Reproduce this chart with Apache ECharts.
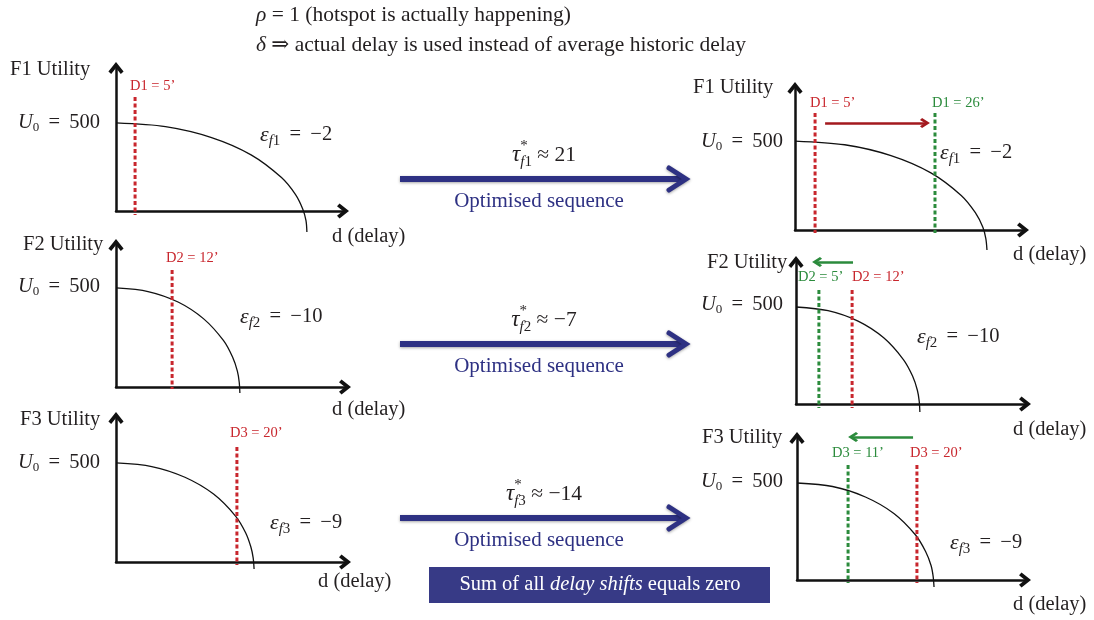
<!DOCTYPE html>
<html>
<head>
<meta charset="utf-8">
<script src="https://cdn.jsdelivr.net/npm/echarts@6/dist/echarts.min.js"></script>
<style>html,body{margin:0;background:#fff}#chart{width:1094px;height:620px}</style>
</head>
<body>
<div id="chart"></div>
<script>
// panels 0-2: historic delay (left), panels 3-5: optimised sequence (right)
const flights = ['F1', 'F2', 'F3'];
const elasticity = ['\u22122', '\u221210', '\u22129'];
const tauStar = ['21', '\u22127', '\u221214'];
const histDelayLabel = ['D1 = 5\u2019', 'D2 = 12\u2019', 'D3 = 20\u2019'];
const newDelayLabel = ['D1 = 26\u2019', 'D2 = 5\u2019', 'D3 = 11\u2019'];
const U0 = 500;

// positions on the delay axis (0..100 = axis length)
const histDelayLeft = [8.4, 24.5, 52.8];
const histDelayRight = [8.8, 24.5, 52.6];
const newDelayRight = [61.4, 10.0, 22.4];
const dashTop = [648, 591, 581, 657, 588, 593];
const dashBottom = [-23, -10, -15, -17, -21, -15];
const shiftFrom = [13.2, 24.9, 50.9];
const shiftTo = [57.0, 9.2, 24.6];
const shiftLevel = [601, 732, 737];

// utility curves [delay, utility]
const curveL1 = [[0,500],[21.8,479],[42.1,417],[59.5,319],[72.9,190],[79.1,93],[82.3,10],[83.7,-55],[84.1,-119]];
const curveL2 = [[0,500],[14.0,482],[27.1,429],[38.3,344],[46.9,235],[50.9,151],[53.0,80],[53.8,25],[54.1,-30]];
const curveL3 = [[0,500],[15.6,482],[30.1,428],[42.6,343],[52.2,232],[56.6,148],[58.9,76],[59.9,21],[60.3,-35]];
const curveR1 = [[0,500],[21.8,479],[42.1,418],[59.6,321],[72.9,194],[79.1,97],[82.4,15],[83.7,-48],[84.2,-112]];
const curveR2 = [[0,500],[14.0,481],[27.1,427],[38.3,341],[46.9,229],[50.9,144],[53.0,71],[53.8,15],[54.1,-41]];
const curveR3 = [[0,500],[15.6,482],[30.0,428],[42.5,343],[52.0,232],[56.4,147],[58.8,75],[59.7,20],[60.1,-36]];
const curves = [curveL1, curveL2, curveL3, curveR1, curveR2, curveR3];

// grid boxes [left, top, width, height] and y-axis max so U0 sits right
const boxes = [
  [116, 68, 227, 143], [116, 245, 229, 142], [116, 418, 229, 144],
  [795, 88, 228, 142], [796, 262, 229, 142], [797, 438, 228, 142]
];
const yMax = [812, 717, 727, 798, 732, 732];

const FONT = '"Liberation Serif", "DejaVu Serif", serif';
const INK = '#231f20';
const RED = '#c8262d';
const GREEN = '#2b8b3c';
const NAVY = '#2e3183';
const chevron = 'path://M6,0L12,7.5L9.8,9.5L6,4.8L2.2,9.5L0,7.5Z';

const ctx = document.createElement('canvas').getContext('2d');
function tw(t, s, it) {
  ctx.font = (it ? 'italic ' : '') + s + 'px ' + FONT;
  return ctx.measureText(t).width;
}
// text built from pieces (sub/superscripts), o = no advance
function mt(x, y, parts, align, color) {
  let total = 0;
  parts.forEach(p => { if (!p.o) total += tw(p.t, p.s, p.i); });
  let cx = align === 'right' ? x - total : align === 'center' ? x - total / 2 : x;
  const out = [];
  parts.forEach(p => {
    out.push({
      type: 'text', x: cx, y: y + (p.dy || 0), silent: true,
      style: {
        text: p.t, fontSize: p.s, fontFamily: FONT, fontStyle: p.i ? 'italic' : 'normal',
        fill: p.c || color || INK, align: 'left', verticalAlign: 'middle'
      }
    });
    if (!p.o) cx += tw(p.t, p.s, p.i);
  });
  return out;
}
function plain(x, y, t, s, color, align) {
  return mt(x, y, [{t: t, s: s}], align || 'left', color);
}
const EQ = ' \u2009=\u2009 ';
function u0(x, y) {
  return mt(x, y, [{t: 'U', s: 20.5, i: 1}, {t: '0', s: 13, dy: 5}, {t: EQ + U0, s: 20.5}], 'right');
}
function eps(x, y, k) {
  return mt(x, y, [{t: '\u03b5', s: 22, i: 1}, {t: 'f', s: 15, i: 1, dy: 6}, {t: String(k + 1), s: 15, dy: 6},
    {t: EQ + elasticity[k], s: 20.5}], 'left');
}

const grid = boxes.map(b => ({left: b[0], top: b[1], width: b[2], height: b[3]}));
const axisLine = {
  show: true, onZero: false, symbol: ['none', chevron], symbolSize: [16, 12],
  lineStyle: {color: '#111', width: 2.5}
};
const xAxis = boxes.map((b, i) => ({
  type: 'value', gridIndex: i, min: 0, max: 100, axisLine: axisLine,
  axisTick: {show: false}, axisLabel: {show: false}, splitLine: {show: false}
}));
const yAxis = boxes.map((b, i) => ({
  type: 'value', gridIndex: i, min: 0, max: yMax[i], axisLine: axisLine,
  axisTick: {show: false}, axisLabel: {show: false}, splitLine: {show: false}
}));

const series = [];
curves.forEach((c, i) => {
  series.push({
    type: 'line', xAxisIndex: i, yAxisIndex: i, data: c, smooth: 0.3, symbol: 'none', clip: false,
    lineStyle: {color: '#111', width: 1.3}, z: 3
  });
});
function dash(i, x, color) {
  series.push({
    type: 'line', xAxisIndex: i, yAxisIndex: i, data: [[x, dashTop[i]], [x, dashBottom[i]]],
    symbol: 'none', clip: false, lineStyle: {color: color, width: 3, type: [4, 2.5]}, z: 4
  });
}
for (let k = 0; k < 3; k++) {
  dash(k, histDelayLeft[k], RED);
  dash(3 + k, histDelayRight[k], RED);
  dash(3 + k, newDelayRight[k], GREEN);
  series.push({
    type: 'lines', coordinateSystem: 'cartesian2d', xAxisIndex: 3 + k, yAxisIndex: 3 + k, clip: false,
    symbol: ['none', chevron], symbolSize: [13, 10],
    lineStyle: {color: k === 0 ? '#a3191e' : GREEN, width: 2.5, opacity: 1, curveness: 0},
    data: [{coords: [[shiftFrom[k], shiftLevel[k]], [shiftTo[k], shiftLevel[k]]]}], z: 5
  });
}

// annotation text positions
const utilPos = [[10, 70], [23, 245], [20, 420], [693, 88], [707, 263], [702, 438]];
const u0Pos = [[100, 123], [100, 287], [100, 463], [783, 142], [783, 305], [783, 482]];
const epsPos = [[260, 135], [240, 317], [270, 523], [940, 153], [917, 337], [950, 543]];
const delayPos = [[332, 237], [332, 410], [318, 582], [1013, 255], [1013, 430], [1013, 605]];
const histLabelPos = [[130, 86], [166, 258], [230, 433], [810, 103], [852, 277], [910, 453]];
const newLabelPos = [[932, 103], [798, 277], [832, 453]];
const arrowY = [179, 344, 518];

let g = [];
g = g.concat(mt(256, 15, [{t: '\u03c1', s: 21.5, i: 1}, {t: ' = 1 (hotspot is actually happening)', s: 21.5}]));
g = g.concat(mt(256, 45, [{t: '\u03b4', s: 21.5, i: 1}, {t: ' \u21d2 actual delay is used instead of average historic delay', s: 21.5}]));
for (let i = 0; i < 6; i++) {
  const k = i % 3;
  g = g.concat(plain(utilPos[i][0], utilPos[i][1], flights[k] + ' Utility', 20.5));
  g = g.concat(u0(u0Pos[i][0], u0Pos[i][1]));
  g = g.concat(eps(epsPos[i][0], epsPos[i][1], k));
  g = g.concat(plain(delayPos[i][0], delayPos[i][1], 'd (delay)', 20.5));
  g = g.concat(plain(histLabelPos[i][0], histLabelPos[i][1], histDelayLabel[k], 14.5, RED));
}
for (let k = 0; k < 3; k++) {
  g = g.concat(plain(newLabelPos[k][0], newLabelPos[k][1], newDelayLabel[k], 14.5, GREEN));
  const y = arrowY[k];
  g.push({type: 'line', silent: true, shape: {x1: 400, y1: y, x2: 684, y2: y},
    style: {stroke: NAVY, lineWidth: 6, shadowBlur: 3, shadowColor: 'rgba(0,0,0,0.35)', shadowOffsetY: 1}});
  g.push({type: 'polyline', silent: true, shape: {points: [[669, y - 11], [686, y], [669, y + 11]]},
    style: {stroke: NAVY, fill: 'none', lineWidth: 5, lineJoin: 'miter', lineCap: 'round',
      shadowBlur: 3, shadowColor: 'rgba(0,0,0,0.35)', shadowOffsetY: 1}});
  g = g.concat(mt(544, y - 24, [{t: '\u03c4', s: 23, i: 1}, {t: '*', s: 15, dy: -9, o: 1},
    {t: 'f', s: 15, i: 1, dy: 7}, {t: String(k + 1), s: 15, dy: 7}, {t: ' \u2248 ' + tauStar[k], s: 21.5}], 'center'));
  g = g.concat(plain(539, y + 22, 'Optimised sequence', 21, NAVY, 'center'));
}
g.push({type: 'rect', silent: true, shape: {x: 429, y: 567, width: 341, height: 36},
  style: {fill: '#373a86'}});
g = g.concat(mt(600, 585, [{t: 'Sum of all ', s: 20.5}, {t: 'delay shifts', s: 20.5, i: 1}, {t: ' equals zero', s: 20.5}], 'center', '#fff'));

const chart = echarts.init(document.getElementById('chart'));
chart.setOption({
  animation: false,
  backgroundColor: '#fff',
  grid: grid,
  xAxis: xAxis,
  yAxis: yAxis,
  series: series,
  graphic: {elements: g}
});
</script>
</body>
</html>
